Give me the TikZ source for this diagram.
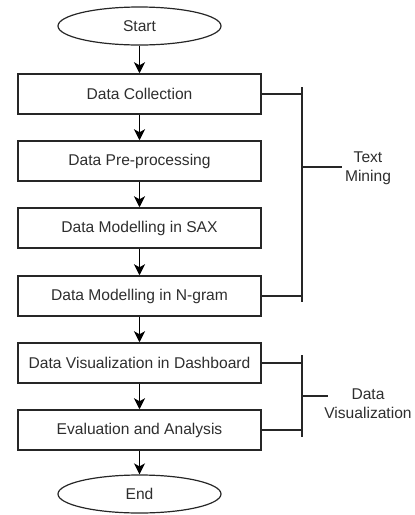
\documentclass[tikz,border=0pt]{standalone}
\usepackage{fontspec}
\setmainfont{Liberation Sans}
\usetikzlibrary{shapes.geometric,arrows.meta}
\begin{document}
\begin{tikzpicture}[x=1pt,y=-1pt,
  every node/.style={font=\fontsize{15.6}{19}\selectfont, text=black!82},
  flowbox/.style={draw=black!85, line width=1.5pt, rectangle, minimum width=243pt, minimum height=40pt, inner sep=0pt},
  term/.style={draw=black!85, line width=1.2pt, ellipse, minimum width=163pt, minimum height=38pt, inner sep=0pt},
  flow/.style={draw=black, line width=1.5pt, -{Stealth[length=11pt,width=11pt,inset=3pt]}},
  brace/.style={draw=black!85, line width=1.4pt},
  lbl/.style={align=center, inner sep=0pt}
]
\useasboundingbox (0,0) rectangle (415,515);
\node[term] (start) at (139.5,26) {Start};
\node[flowbox] (b1) at (139.5,94) {Data Collection};
\node[flowbox] (b2) at (139.5,161) {Data Pre-processing};
\node[flowbox] (b3) at (139.5,228) {Data Modelling in SAX};
\node[flowbox] (b4) at (139.5,296) {Data Modelling in N-gram};
\node[flowbox] (b5) at (139.5,363) {Data Visualization in Dashboard};
\node[flowbox] (b6) at (139.5,430) {Evaluation and Analysis};
\node[term] (end) at (139.5,494) {End};

\draw[flow] (start) -- (b1);
\draw[flow] (b1) -- (b2);
\draw[flow] (b2) -- (b3);
\draw[flow] (b3) -- (b4);
\draw[flow] (b4) -- (b5);
\draw[flow] (b5) -- (b6);
\draw[flow] (b6) -- (end);

% Text Mining bracket
\coordinate (tmtop) at (302,87);
\coordinate (tmbot) at (302,302);
\coordinate (tm1) at (302,94);
\coordinate (tm4) at (302,296);
\coordinate (tmmid) at (302,167);
\coordinate (tmtick) at (342,167);
\draw[brace] (tmtop) -- (tmbot);
\draw[brace] (b1.east) -- (tm1);
\draw[brace] (b4.east) -- (tm4);
\draw[brace] (tmmid) -- (tmtick);
\node[lbl] (tm) at (368,168) {Text\\Mining};

% Data Visualization bracket
\coordinate (dvtop) at (302,355);
\coordinate (dvbot) at (302,437);
\coordinate (dv5) at (302,363);
\coordinate (dv6) at (302,430);
\coordinate (dvmid) at (302,396);
\coordinate (dvtick) at (328,396);
\draw[brace] (dvtop) -- (dvbot);
\draw[brace] (b5.east) -- (dv5);
\draw[brace] (b6.east) -- (dv6);
\draw[brace] (dvmid) -- (dvtick);
\node[lbl] (dv) at (368,404) {Data\\Visualization};
\end{tikzpicture}
\end{document}
